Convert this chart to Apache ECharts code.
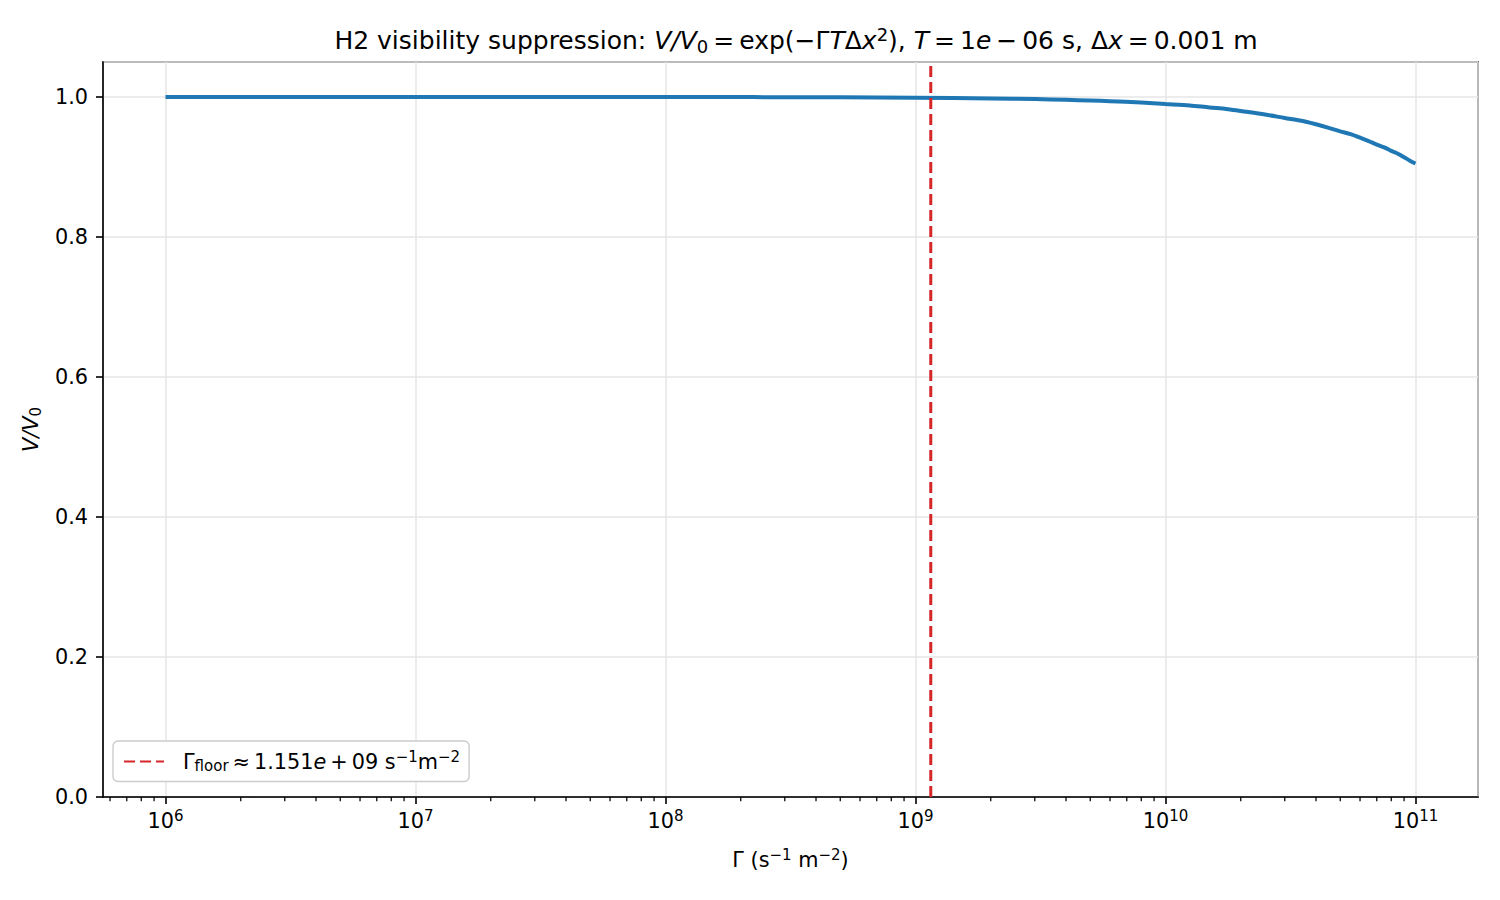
<!DOCTYPE html>
<html>
<head>
<meta charset="utf-8">
<script src="https://cdn.jsdelivr.net/npm/echarts@6/dist/echarts.min.js"></script>
<style>
  html, body { margin: 0; padding: 0; background: #fff; }
  #chart { width: 1500px; height: 900px; }
</style>
</head>
<body>
<div id="chart"></div>
<script>
// visibility curve
var gammaValues = [1e6, 1e7, 1e8, 5e8, 1e9, 2e9, 3e9, 4e9, 5e9, 6e9, 8e9, 1e10, 1.25e10, 1.5e10, 1.75e10, 2e10, 2.5e10, 3e10, 3.5e10, 4e10, 4.5e10, 5e10, 5.5e10, 6e10, 6.5e10, 7e10, 7.5e10, 8e10, 8.5e10, 9e10, 9.5e10, 1e11];
var visValues   = [1.0, 1.0, 1.0, 0.9995, 0.999, 0.998, 0.997, 0.996, 0.995, 0.994, 0.992, 0.990, 0.988, 0.985, 0.983, 0.980, 0.975, 0.970, 0.966, 0.961, 0.956, 0.951, 0.947, 0.942, 0.937, 0.932, 0.928, 0.923, 0.919, 0.914, 0.909, 0.905];

// vertical floor marker
var gammaFloor = 1.151e9;
var floorY = [0, 1.05];

// minor ticks on the log axis
var minorTicks = [
  6e5, 7e5, 8e5, 9e5,
  2e6, 3e6, 4e6, 5e6, 6e6, 7e6, 8e6, 9e6,
  2e7, 3e7, 4e7, 5e7, 6e7, 7e7, 8e7, 9e7,
  2e8, 3e8, 4e8, 5e8, 6e8, 7e8, 8e8, 9e8,
  2e9, 3e9, 4e9, 5e9, 6e9, 7e9, 8e9, 9e9,
  2e10, 3e10, 4e10, 5e10, 6e10, 7e10, 8e10, 9e10
];

var FONT = 'DejaVu Sans';
var chart = echarts.init(document.getElementById('chart'), null, {renderer: 'svg'});

function richSet(size, opPad) {
  var small = Math.round(size * 0.7);
  return {
    n: {fontFamily: FONT, fontSize: size, color: '#000'},
    g: {fontFamily: FONT, fontSize: size, color: '#000', padding: [0, 0, 0, 14]},
    op: {fontFamily: FONT, fontSize: size, color: '#000', padding: [0, opPad, 0, opPad]},
    i: {fontFamily: FONT, fontSize: size, fontStyle: 'italic', color: '#000'},
    sup: {fontFamily: FONT, fontSize: small, color: '#000', padding: [0, 0, Math.round(size * 0.5), 0]},
    sub: {fontFamily: FONT, fontSize: small, color: '#000', padding: [Math.round(size * 0.45), 0, 0, 0]}
  };
}

chart.setOption({
  animation: false,
  title: {
    text: '{n|H2 visibility suppression: }{i|V/V}{sub|0}{op|=}{n|exp(−Γ}{i|T}{n|Δ}{i|x}{sup|2}{n|), }{i|T}{op|=}{n|1}{i|e}{op|−}{n|06 s, Δ}{i|x}{op|=}{n|0.001 m}',
    left: 791, top: 20, textAlign: 'center',
    textStyle: {fontFamily: FONT, fontSize: 25, fontWeight: 'normal', color: '#000', rich: richSet(25, 5)}
  },
  grid: {left: 103, right: 22, top: 62, bottom: 103, show: true, borderColor: '#000', borderWidth: 1.6, backgroundColor: 'transparent'},
  legend: {
    data: ['floor'],
    left: 113, top: 741,
    orient: 'vertical',
    itemWidth: 40, itemHeight: 14,
    padding: [8, 9, 8, 10],
    backgroundColor: '#fff', borderColor: '#ccc', borderWidth: 1.4, borderRadius: 5,
    itemStyle: {opacity: 0},
    formatter: function () {
      return '{g|Γ}{sub|floor}{op|≈}{n|1.151}{i|e}{op|+}{n|09 s}{sup|−1}{n|m}{sup|−2}';
    },
    textStyle: {fontFamily: FONT, fontSize: 20.8, color: '#000', rich: richSet(20.8, 4)}
  },
  xAxis: {
    type: 'log', logBase: 10,
    min: Math.pow(10, 5.75), max: Math.pow(10, 11.25),
    name: '{n|Γ (s}{sup|−1}{n| m}{sup|−2}{n|)}',
    nameLocation: 'middle', nameGap: 50,
    nameTextStyle: {fontFamily: FONT, fontSize: 20.8, color: '#000', rich: richSet(20.8, 4)},
    axisLine: {show: true, lineStyle: {color: '#000', width: 1.6}},
    axisTick: {show: true, length: 7, lineStyle: {color: '#000', width: 1.6}},
    axisLabel: {
      margin: 11, showMinLabel: false, showMaxLabel: false,
      fontFamily: FONT, fontSize: 20.8, color: '#000',
      formatter: function (v) {
        var e = Math.round(Math.log10(v));
        return '{n|10}{sup|' + e + '}';
      },
      rich: richSet(20.8, 4)
    },
    splitLine: {show: true, lineStyle: {color: '#e6e6e6', width: 1.5}}
  },
  yAxis: {
    type: 'value', min: 0, max: 1.05, interval: 0.2,
    name: '{i|V/V}{sub|0}',
    nameLocation: 'middle', nameGap: 60, nameRotate: 90,
    nameTextStyle: {fontFamily: FONT, fontSize: 20.8, color: '#000', rich: richSet(20.8, 4)},
    axisLine: {show: true, lineStyle: {color: '#000', width: 1.6}},
    axisTick: {show: true, length: 7, lineStyle: {color: '#000', width: 1.6}},
    axisLabel: {
      margin: 15, showMaxLabel: false,
      fontFamily: FONT, fontSize: 20.8, color: '#000',
      formatter: function (v) { return v.toFixed(1); }
    },
    splitLine: {show: true, lineStyle: {color: '#e6e6e6', width: 1.5}}
  },
  series: [
    {
      name: 'visibility',
      type: 'line',
      data: gammaValues.map(function (g, i) { return [g, visValues[i]]; }),
      showSymbol: false, symbol: 'none',
      smooth: 0.3,
      lineStyle: {color: '#1f77b4', width: 4},
      itemStyle: {color: '#1f77b4'},
      z: 3
    },
    {
      name: 'floor',
      type: 'line',
      data: floorY.map(function (y) { return [gammaFloor, y]; }),
      symbol: 'none', showSymbol: false,
      lineStyle: {color: '#d62728', width: 3, type: [11, 5]},
      itemStyle: {color: '#d62728'},
      z: 4
    },
    {
      name: 'minor',
      type: 'custom',
      clip: false,
      silent: true,
      data: minorTicks.map(function (v) { return [v]; }),
      encode: {x: 0},
      renderItem: function (params, api) {
        var p = api.coord([api.value(0), 0]);
        return {
          type: 'line',
          shape: {x1: p[0], y1: p[1], x2: p[0], y2: p[1] + 4.2},
          style: {stroke: '#000', lineWidth: 1.25}
        };
      },
      z: 5
    }
  ]
});
</script>
</body>
</html>
